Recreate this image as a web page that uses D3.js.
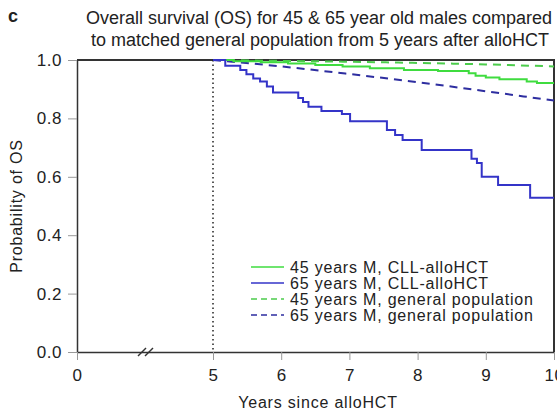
<!DOCTYPE html>
<html>
<head>
<meta charset="utf-8">
<script src="https://d3js.org/d3.v7.min.js"></script>
<style>
  body { margin: 0; background: #fff; }
  svg { display: block; font-family: "Liberation Sans", Arial, sans-serif; }
</style>
</head>
<body>
<svg id="chart" width="557" height="411"></svg>
<script>
// 65 years M, CLL-alloHCT (Kaplan-Meier steps)
const blueTimes  = [5.0, 5.18, 5.40, 5.49, 5.59, 5.69, 5.79, 5.88, 6.25, 6.32, 6.40, 6.59, 6.89, 7.01, 7.55, 7.67, 7.78, 8.06, 8.79, 8.87, 8.94, 9.18, 9.65, 10.0];
const blueValues = [1.0, 0.980, 0.966, 0.951, 0.937, 0.926, 0.909, 0.889, 0.870, 0.856, 0.840, 0.825, 0.815, 0.790, 0.760, 0.743, 0.726, 0.692, 0.662, 0.647, 0.600, 0.572, 0.528, 0.528];
// 45 years M, CLL-alloHCT
const greenTimes  = [5.0, 5.3, 5.7, 6.1, 6.5, 6.9, 7.3, 7.8, 8.3, 8.75, 8.85, 9.0, 9.2, 9.6, 9.75, 10.0];
const greenValues = [1.0, 0.996, 0.992, 0.988, 0.983, 0.978, 0.972, 0.966, 0.962, 0.955, 0.946, 0.940, 0.934, 0.926, 0.921, 0.921];
// general population
const popYears   = [5, 6, 7, 8, 9, 10];
const pop45      = [1.0, 0.997, 0.994, 0.990, 0.985, 0.978];
const pop65      = [1.0, 0.978, 0.952, 0.924, 0.893, 0.861];

const yTicks = [0, 0.2, 0.4, 0.6, 0.8, 1.0];
const xTicks = [0, 5, 6, 7, 8, 9, 10];
const legendLabels = ["45 years M, CLL-alloHCT", "65 years M, CLL-alloHCT",
                      "45 years M, general population", "65 years M, general population"];

const green = "#3fdc3f", blue = "#3434c8", greenDash = "#4ccc4c", blueDash = "#2e2ea0";
const txt = "#222";
const fs = 16, ls = 0.8;

const svg = d3.select("#chart");
const x = d3.scaleLinear().domain([0, 5, 10]).range([77, 213, 554]);
const y = d3.scaleLinear().domain([0, 1]).range([352, 60]);

// title
svg.append("text").attr("x", 8).attr("y", 22).attr("font-size", 18).attr("font-weight", "bold")
  .attr("fill", txt).text("c");
svg.append("text").attr("x", 319).attr("y", 24).attr("text-anchor", "middle").attr("font-size", 18)
  .attr("fill", txt).text("Overall survival (OS) for 45 & 65 year old males compared");
svg.append("text").attr("x", 320).attr("y", 46).attr("text-anchor", "middle").attr("font-size", 18)
  .attr("fill", txt).text("to matched general population from 5 years after alloHCT");

// frame top/right
svg.append("path")
  .attr("d", `M${x(0)},${y(1)}H${x(10)}V${y(0)}`)
  .attr("fill", "none").attr("stroke", "#333").attr("stroke-width", 2);

// axes
const yAxis = svg.append("g").attr("transform", `translate(${x(0)},0)`)
  .call(d3.axisLeft(y).tickValues(yTicks).tickFormat(d3.format(".1f")).tickSize(9).tickSizeOuter(0).tickPadding(6));
const xAxis = svg.append("g").attr("transform", `translate(0,${y(0)})`)
  .call(d3.axisBottom(x).tickValues(xTicks).tickFormat(d3.format("d")).tickSize(8).tickSizeOuter(0).tickPadding(9));
[yAxis, xAxis].forEach(a => {
  a.selectAll("path").attr("stroke", "#333").attr("stroke-width", 1.5);
  a.selectAll("line").attr("stroke", "#999").attr("stroke-width", 1);
  a.selectAll("text").attr("font-size", 17).attr("fill", txt).attr("letter-spacing", 0.5);
  a.attr("font-family", null);
});

// axis break marks
[0, 7].forEach(o => {
  svg.append("line").attr("x1", 138 + o).attr("y1", 356).attr("x2", 146 + o).attr("y2", 348)
    .attr("stroke", "#333").attr("stroke-width", 1.5);
});

// axis titles
svg.append("text").attr("transform", `translate(22,${y(0.5)}) rotate(-90)`)
  .attr("text-anchor", "middle").attr("font-size", fs).attr("letter-spacing", ls)
  .attr("fill", txt).text("Probability of OS");
svg.append("text").attr("x", 318).attr("y", 408).attr("text-anchor", "middle")
  .attr("font-size", fs).attr("letter-spacing", ls).attr("fill", txt).text("Years since alloHCT");

// dotted line at 5 years
svg.append("line").attr("x1", x(5)).attr("x2", x(5)).attr("y1", y(1)).attr("y2", y(0))
  .attr("stroke", "#222").attr("stroke-width", 1.5).attr("stroke-dasharray", "1.5,3");

// curves
const step = d3.line().x(d => x(d[0])).y(d => y(d[1])).curve(d3.curveStepAfter);
const smooth = d3.line().x(d => x(d[0])).y(d => y(d[1])).curve(d3.curveMonotoneX);

svg.append("path").datum(popYears.map((t, i) => [t, pop45[i]])).attr("d", smooth)
  .attr("fill", "none").attr("stroke", greenDash).attr("stroke-width", 2).attr("stroke-dasharray", "8,6");
svg.append("path").datum(popYears.map((t, i) => [t, pop65[i]])).attr("d", smooth)
  .attr("fill", "none").attr("stroke", blueDash).attr("stroke-width", 2).attr("stroke-dasharray", "8,6");
svg.append("path").datum(greenTimes.map((t, i) => [t, greenValues[i]])).attr("d", step)
  .attr("fill", "none").attr("stroke", green).attr("stroke-width", 2);
svg.append("path").datum(blueTimes.map((t, i) => [t, blueValues[i]])).attr("d", step)
  .attr("fill", "none").attr("stroke", blue).attr("stroke-width", 2);

// legend
const legendStyles = [
  { c: green, dash: null }, { c: blue, dash: null },
  { c: greenDash, dash: "6,4" }, { c: blueDash, dash: "6,4" }
];
const lg = svg.append("g");
legendLabels.forEach((lab, i) => {
  const ly = 267 + i * 16;
  lg.append("line").attr("x1", 251).attr("x2", 284).attr("y1", ly).attr("y2", ly)
    .attr("stroke", legendStyles[i].c).attr("stroke-width", 1.5)
    .attr("stroke-dasharray", legendStyles[i].dash);
  lg.append("text").attr("x", 290).attr("y", ly + 5.5).attr("font-size", fs).attr("letter-spacing", ls)
    .attr("fill", txt).text(lab);
});
</script>
</body>
</html>
